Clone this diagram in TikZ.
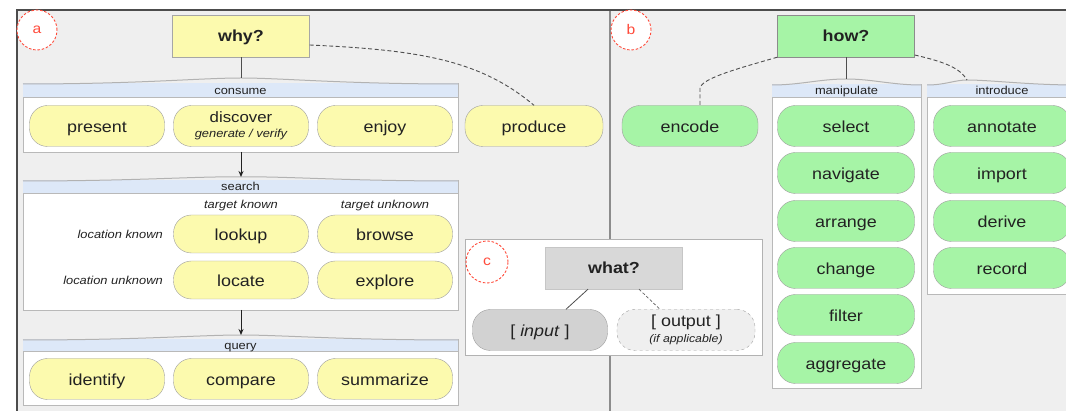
\documentclass[tikz,border=0pt]{standalone}
\usepackage{fontspec}
\setmainfont[FakeStretch=1.12]{Liberation Sans}
\usetikzlibrary{arrows.meta}
\definecolor{bgc}{HTML}{EFEFEF}
\definecolor{yel}{HTML}{FCFAAE}
\definecolor{grn}{HTML}{A6F4A6}
\definecolor{hdr}{HTML}{DDE8F8}
\definecolor{txt}{HTML}{222222}
\definecolor{redc}{HTML}{FF4A3A}
\definecolor{gbox}{HTML}{D8D8D8}
\definecolor{gpill}{HTML}{D2D2D2}
\tikzset{
  pill/.style={draw=gray!75, rounded corners=18pt, minimum width=135pt, minimum height=41pt, inner sep=0pt, text=txt, font=\fontsize{16}{18}\selectfont},
  onel/.style={text height=14pt, text depth=1pt},
  ypill/.style={pill, onel, fill=yel},
  gpillst/.style={pill, onel, fill=grn},
  topbox/.style={draw=gray!70, minimum width=137pt, minimum height=42pt, inner sep=0pt, text=txt, text height=13.5pt, text depth=1.5pt, font=\bfseries\fontsize{16}{18}\selectfont},
  grpbody/.style={draw=gray!55, fill=white, line width=0.8pt},
  hdrfill/.style={fill=hdr},
  hdrtxt/.style={inner sep=0pt, text=txt, text height=9pt, text depth=1.5pt, font=\fontsize{11.5}{13}\selectfont},
  smalllab/.style={inner sep=0pt, text=txt, text height=10.5pt, text depth=0.5pt, font=\itshape\fontsize{11.5}{13}\selectfont},
  brace/.style={draw=gray!60, line width=1pt},
  conn/.style={draw=txt!80, line width=1pt},
  dconn/.style={draw=txt!80, line width=0.9pt, dash pattern=on 4pt off 2.5pt},
  arr/.style={draw=txt, line width=1pt, -{Stealth[length=6pt,width=5pt]}},
  badge/.style={circle, draw=redc, line width=0.9pt, dash pattern=on 2.5pt off 1.8pt, fill=white, minimum size=40pt, inner sep=0pt, text=redc, font=\fontsize{14}{16}\selectfont},
}
\begin{document}
\begin{tikzpicture}[x=1pt,y=-1pt]
\useasboundingbox (0,0) rectangle (1066,411);
\clip (0,0) rectangle (1066,411);
\fill[white] (0,0) rectangle (1066,411);
\fill[bgc] (17,10) rectangle (1066,411);
\draw[gray!90, line width=1.5pt] (610,10) -- (610,411);
\draw[black!70, line width=2pt] (1066,10) -- (17,10) -- (17,411);

% ---------------- panel a ----------------
\node[topbox, fill=yel] (why) at (241,36) {why?};

% consume group
\draw[grpbody] (23,83) rectangle (458,152);
\fill[hdrfill] (23.4,83.4) rectangle (457.6,97);
\draw[gray!55, line width=0.8pt] (23,97) -- (458,97);
\node[hdrtxt] (consumeH) at (240.5,90.5) {consume};
\coordinate (consumeTop) at (241,78);
\coordinate (consumeBot) at (241,152);
\draw[brace] (23,84) .. controls (140,84) and (200,78) .. (consumeTop) .. controls (282,78) and (342,84) .. (458,84);
\node[ypill] (present) at (97,126) {present};
\node[pill, fill=yel, align=center, font=\fontsize{15}{16}\selectfont] (discover) at (241,126) {discover\\[-1pt]{\itshape\fontsize{11.5}{12}\selectfont generate / verify}};
\node[ypill] (enjoy) at (385,126) {enjoy};
\node[ypill, minimum width=138pt] (produce) at (534,126) {produce};

\draw[conn] (why.south) -- (consumeTop);
\draw[dconn] (why.east |- 0,45) .. controls (420,50) and (480,60) .. (produce.north);

% search group
\draw[grpbody] (23,180) rectangle (458,310);
\fill[hdrfill] (23.4,180.4) rectangle (457.6,193);
\draw[gray!55, line width=0.8pt] (23,193) -- (458,193);
\node[hdrtxt] (searchH) at (240.5,187) {search};
\coordinate (searchTop) at (241,177);
\coordinate (searchBot) at (241,310);
\draw[brace] (23,181) .. controls (140,181) and (200,176) .. (searchTop) .. controls (282,176) and (342,181) .. (458,181);
\draw[arr] (consumeBot) -- (searchTop);

\node[smalllab] (tknown) at (241,204) {target known};
\node[smalllab] (tunknown) at (385,204) {target unknown};
\node[smalllab, anchor=east] (lknown) at (163,234) {location known};
\node[smalllab, anchor=east] (lunknown) at (163,280) {location unknown};
\node[ypill, minimum height=38pt] (lookup) at (241,234) {lookup};
\node[ypill, minimum height=38pt] (browse) at (385,234) {browse};
\node[ypill, minimum height=38pt] (locate) at (241,280) {locate};
\node[ypill, minimum height=38pt] (explore) at (385,280) {explore};

% query group
\draw[grpbody] (23,339) rectangle (458,405);
\fill[hdrfill] (23.4,339.4) rectangle (457.6,351);
\draw[gray!55, line width=0.8pt] (23,351) -- (458,351);
\node[hdrtxt] (queryH) at (240.5,345.5) {query};
\coordinate (queryTop) at (241,335);
\draw[brace] (23,340) .. controls (140,340) and (200,335) .. (queryTop) .. controls (282,335) and (342,340) .. (458,340);
\draw[arr] (searchBot) -- (queryTop);
\node[ypill] (identify) at (97,379) {identify};
\node[ypill] (compare) at (241,379) {compare};
\node[ypill] (summarize) at (385,379) {summarize};

\node[badge] (ba) at (37,30) {a};

% ---------------- panel b ----------------
\node[topbox, fill=grn, draw=gray!90] (how) at (846,36) {how?};
\node[gpillst, minimum width=136pt] (encode) at (690,126) {encode};

% manipulate group
\draw[grpbody] (772,84) rectangle (921,388);
\fill[hdrfill] (772.4,84.4) rectangle (920.6,97);
\draw[gray!55, line width=0.8pt] (772,97) -- (921,97);
\node[hdrtxt] (manipH) at (846.5,90.5) {manipulate};
\coordinate (manipTop) at (846,79);
\draw[brace] (772,85) .. controls (800,85) and (820,79) .. (manipTop) .. controls (872,79) and (892,85) .. (921,85);
\node[gpillst, minimum width=137pt] (select) at (846,126) {select};
\node[gpillst, minimum width=137pt] (navigate) at (846,173) {navigate};
\node[gpillst, minimum width=137pt] (arrange) at (846,221) {arrange};
\node[gpillst, minimum width=137pt] (change) at (846,268) {change};
\node[gpillst, minimum width=137pt] (filter) at (846,315) {filter};
\node[gpillst, minimum width=137pt] (aggregate) at (846,363) {aggregate};

% introduce group
\draw[grpbody] (927,84) rectangle (1076,294);
\fill[hdrfill] (927.4,84.4) rectangle (1075.6,97);
\draw[gray!55, line width=0.8pt] (927,97) -- (1076,97);
\node[hdrtxt] (introH) at (1002,90.5) {introduce};
\coordinate (introTop) at (967,80);
\draw[brace] (927,85) .. controls (945,85) and (955,80) .. (introTop) .. controls (990,80) and (1030,85) .. (1076,85);
\node[gpillst, minimum width=137pt] (annotate) at (1002,126) {annotate};
\node[gpillst, minimum width=137pt] (import) at (1002,173) {import};
\node[gpillst, minimum width=137pt] (derive) at (1002,221) {derive};
\node[gpillst, minimum width=137pt] (record) at (1002,268) {record};

\coordinate (encodeTop) at (700,105);
\draw[conn] (how.south) -- (manipTop);
\draw[dconn] (how.south west) .. controls (740,68) and (702,78) .. (700,88) -- (encodeTop);
\draw[dconn] (how.east |- 0,55) .. controls (945,62) and (960,68) .. (introTop);

\node[badge] (bb) at (631,30) {b};

% ---------------- panel c ----------------
\draw[draw=gray!60, fill=white, line width=1pt] (465,240) rectangle (762,356);
\node[topbox, fill=gbox, draw=gbox!80!gray] (what) at (614,268) {what?};
\node[pill, onel, fill=gpill, minimum width=135pt] (input) at (540,330) {[ \textit{input} ]};
\node[pill, fill=bgc, dashed, minimum width=138pt, align=center] (output) at (686,330) {[ output ]\\[-2pt]{\itshape\fontsize{11}{12}\selectfont (if applicable)}};
\draw[txt!80, line width=0.8pt] (what.south -| 588,0) -- (input.north -| 566,0);
\draw[txt!70, line width=0.7pt, dash pattern=on 3pt off 2pt] (what.south -| 639,0) -- (output.north -| 660,0);
\node[badge, minimum size=42pt] (bc) at (487,262) {c};
\end{tikzpicture}
\end{document}
